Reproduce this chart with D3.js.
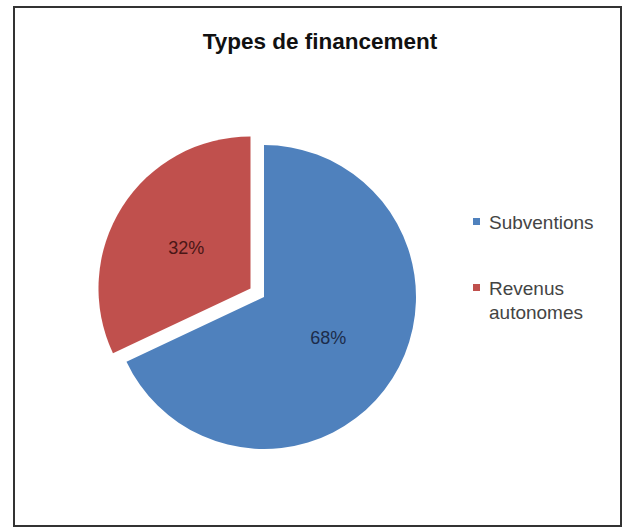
<!DOCTYPE html>
<html>
<head>
<meta charset="utf-8">
<script src="https://cdn.jsdelivr.net/npm/d3@7"></script>
<style>
  body { margin: 0; background: #fff; }
  svg { display: block; font-family: "Liberation Sans", Arial, sans-serif; }
</style>
</head>
<body>
<div class="chart"></div>
<script>
// data
var categories = ["Subventions", "Revenus autonomes"];
var values = [68, 32];
var colors = ["#4F81BD", "#C0504D"];
var legendLines = [["Subventions"], ["Revenus", "autonomes"]];

var W = 624, H = 529;
var cx = 264, cy = 297, radius = 152, explode = 16;

var svg = d3.select(".chart").append("svg")
    .attr("width", W)
    .attr("height", H);

svg.append("rect").attr("width", W).attr("height", H).attr("fill", "#fff");

// frame
svg.append("rect")
    .attr("x", 14).attr("y", 7)
    .attr("width", 607).attr("height", 519)
    .attr("fill", "#fff")
    .attr("stroke", "#333")
    .attr("stroke-width", 2);

svg.append("text")
    .attr("x", 320).attr("y", 49)
    .attr("text-anchor", "middle")
    .style("font-size", "22.5px")
    .style("font-weight", "bold")
    .attr("fill", "#111")
    .text("Types de financement");

var pieData = d3.pie().sort(null)(values);

var arc = d3.arc().innerRadius(0).outerRadius(radius);
var labelArc = d3.arc().innerRadius(radius * 0.5).outerRadius(radius * 0.5);

var g = svg.append("g").attr("transform", "translate(" + cx + "," + cy + ")");

var slices = g.selectAll(".slice")
    .data(pieData)
    .enter().append("g")
    .attr("class", "slice")
    .attr("transform", function (d, i) {
        if (i !== 1) return null;
        var a = (d.startAngle + d.endAngle) / 2;
        return "translate(" + (Math.sin(a) * explode) + "," + (-Math.cos(a) * explode) + ")";
    });

slices.append("path")
    .attr("d", arc)
    .attr("fill", function (d, i) { return colors[i]; });

slices.append("text")
    .attr("transform", function (d) { return "translate(" + labelArc.centroid(d) + ")"; })
    .attr("text-anchor", "middle")
    .attr("dy", "0.35em")
    .style("font-size", "18px")
    .attr("fill", function (d, i) { return i === 0 ? "#1c2c4a" : "#4a1616"; })
    .text(function (d) { return d.data + "%"; });

// legend
var legend = svg.append("g").attr("class", "legend");
var legendY = [222, 288];
categories.forEach(function (c, i) {
    legend.append("rect")
        .attr("x", 473).attr("y", legendY[i] - 4)
        .attr("width", 7).attr("height", 7)
        .attr("fill", colors[i]);
    legendLines[i].forEach(function (line, j) {
        legend.append("text")
            .attr("x", 489).attr("y", legendY[i] + j * 24)
            .attr("dy", "0.35em")
            .style("font-size", "19px")
            .attr("fill", "#444")
            .text(line);
    });
});
</script>
</body>
</html>
